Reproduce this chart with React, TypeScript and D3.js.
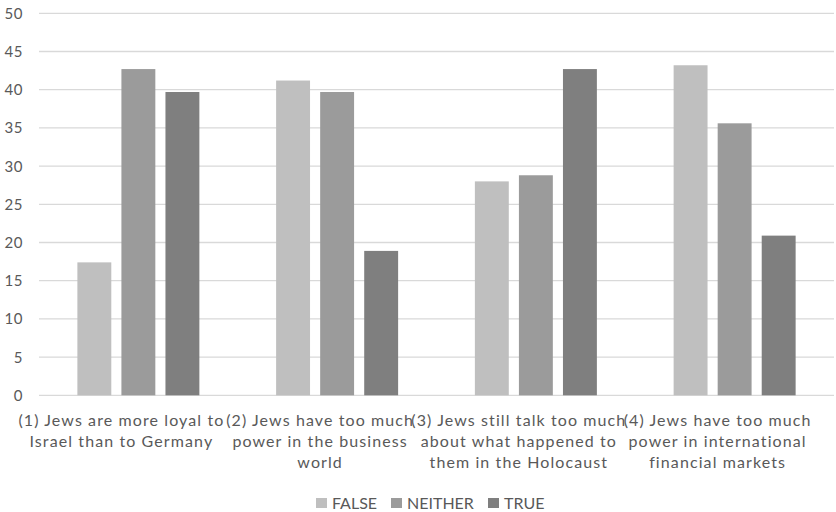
import React from "react";
import * as d3 from "d3";

const categoryLines: string[][] = [
  ["(1) Jews are more loyal to", "Israel than to Germany"],
  ["(2) Jews have too much", "power in the business", "world"],
  ["(3) Jews still talk too much", "about what happened to", "them in the Holocaust"],
  ["(4) Jews have too much", "power in international", "financial markets"],
];
const seriesNames = ["FALSE", "NEITHER", "TRUE"];
const falseValues = [17.4, 41.2, 28.0, 43.2];
const neitherValues = [42.7, 39.7, 28.8, 35.6];
const trueValues = [39.7, 18.9, 42.7, 20.9];
const yTicks = [0, 5, 10, 15, 20, 25, 30, 35, 40, 45, 50];
const colors = ["#bfbfbf", "#9b9b9b", "#7f7f7f"];

const W = 836;
const H = 512;
const FONT = "Lato, 'Open Sans', sans-serif";
const TEXT = "#595959";

export default function App() {
  const series = [falseValues, neitherValues, trueValues];
  const x = d3.scaleBand<number>().domain(d3.range(categoryLines.length)).range([39, 834]).paddingInner(0).paddingOuter(0);
  const y = d3.scaleLinear().domain([0, 50]).range([395.3, 13.3]);
  const groupInner = 122;
  const x1 = d3
    .scaleBand<number>()
    .domain(d3.range(series.length))
    .range([0, groupInner])
    .paddingInner(0.23)
    .paddingOuter(0);

  const legendItems = [
    { name: seriesNames[0], x: 316 },
    { name: seriesNames[1], x: 391 },
    { name: seriesNames[2], x: 488 },
  ];

  return (
    <div style={{ position: "absolute", left: 0, top: 0, width: W, height: H, overflow: "hidden" }}>
      <svg width={W} height={H} style={{ display: "block", background: "#fff" }}>
        {yTicks.map((t) => (
          <g key={t}>
            <line x1={39} x2={834} y1={y(t)} y2={y(t)} stroke="#d9d9d9" strokeWidth={1.3} />
            <text
              x={23}
              y={y(t)}
              dy="0.36em"
              textAnchor="end"
              fontFamily={FONT}
              fontSize={15}
              letterSpacing={0.6}
              fill={TEXT}
            >
              {t}
            </text>
          </g>
        ))}
        {categoryLines.map((_, ci) => {
          const gx = (x(ci) as number) + (x.bandwidth() - groupInner) / 2;
          return (
            <g key={ci}>
              {series.map((vals, si) => (
                <rect
                  key={si}
                  x={gx + (x1(si) as number)}
                  y={y(vals[ci])}
                  width={x1.bandwidth()}
                  height={y(0) - y(vals[ci])}
                  fill={colors[si]}
                />
              ))}
            </g>
          );
        })}
        {categoryLines.map((lines, ci) => {
          const cx = (x(ci) as number) + x.bandwidth() / 2 - 17;
          return (
            <text key={ci} y={425.5} textAnchor="middle" fontFamily={FONT} fontSize={16} letterSpacing={1.1} fill={TEXT}>
              {lines.map((l, li) => (
                <tspan key={li} x={cx} dy={li === 0 ? 0 : 21.2}>
                  {l}
                </tspan>
              ))}
            </text>
          );
        })}
        {legendItems.map((it, i) => (
          <g key={it.name}>
            <rect x={it.x} y={498} width={11} height={10} fill={colors[i]} />
            <text x={it.x + 16} y={509} fontFamily={FONT} fontSize={16} fill={TEXT}>
              {it.name}
            </text>
          </g>
        ))}
      </svg>
    </div>
  );
}
